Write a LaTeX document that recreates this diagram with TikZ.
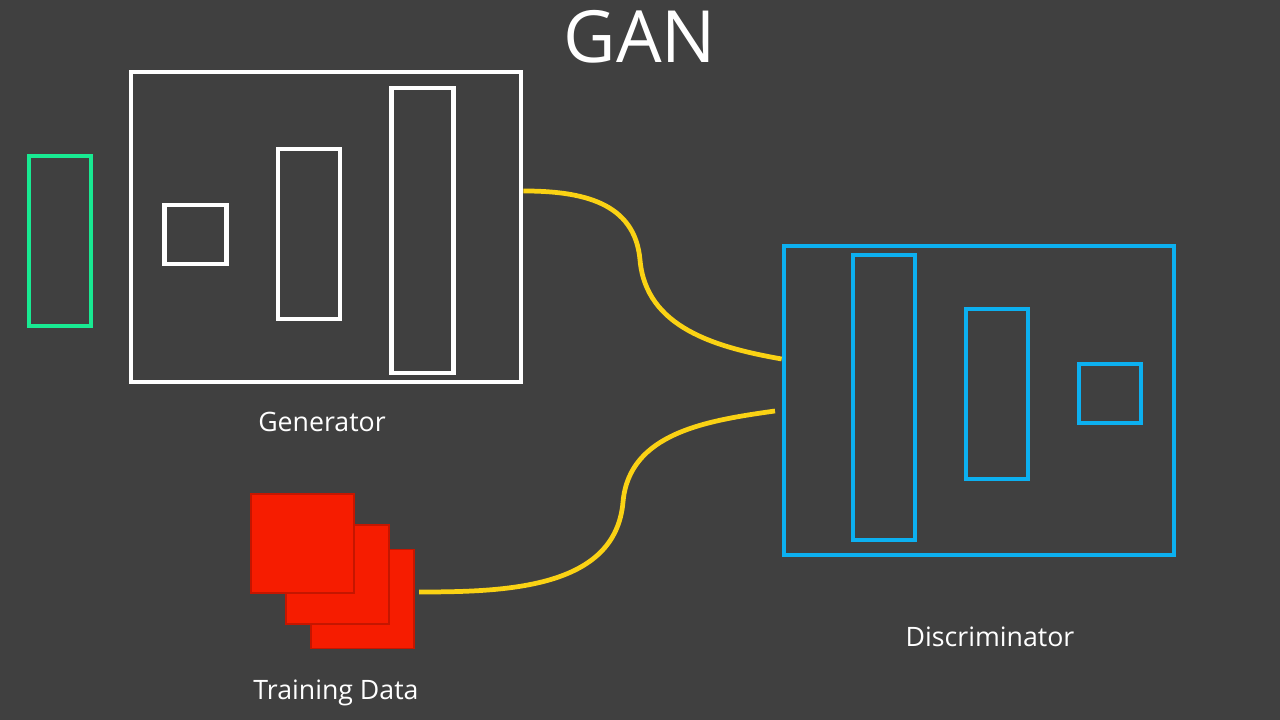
\documentclass[tikz,border=0pt]{standalone}
\usepackage{fontspec}
\setmainfont{Open Sans}
\usepackage{xcolor}

\definecolor{bgcol}{RGB}{64,64,64}
\definecolor{gancyan}{RGB}{12,176,240}
\definecolor{gangreen}{RGB}{24,234,146}
\definecolor{ganyellow}{RGB}{250,210,20}
\definecolor{ganred}{RGB}{246,28,0}

\tikzset{
  box/.style={draw, line width=1.35pt, inner sep=0pt},
  layer/.style={box, minimum width=0.62cm},
  sample/.style={fill=ganred, draw=ganred!80!black, line width=0.3pt,
    minimum width=1.03cm, minimum height=0.99cm, inner sep=0pt},
  wire/.style={ganyellow, line width=1.35pt},
  lbl/.style={white, anchor=base, font=\fontsize{7.6}{9}\selectfont}
}

\begin{document}
\begin{tikzpicture}
\fill[bgcol] (0,0) rectangle (12.8,7.2);
\useasboundingbox (0,0) rectangle (12.8,7.2);

\node[lbl, font=\fontsize{20.5}{24}\selectfont] (title) at (6.40,6.57) {GAN};

% noise input
\node[layer, draw=gangreen, minimum height=1.70cm] (noise) at (0.60,4.79) {};

% generator
\node[box, draw=white, minimum width=3.90cm, minimum height=3.10cm] (gen) at (3.26,4.93) {};
\node[layer, draw=white, minimum height=0.59cm] (g1) at (1.955,4.855) {};
\node[layer, draw=white, minimum height=1.70cm] (g2) at (3.09,4.86) {};
\node[layer, draw=white, minimum height=2.85cm] (g3) at (4.225,4.895) {};
\node[lbl] (genlbl) at (3.22,2.88) {Generator};

% discriminator
\node[box, draw=gancyan, minimum width=3.90cm, minimum height=3.09cm] (disc) at (9.79,3.195) {};
\node[layer, draw=gancyan, minimum height=2.85cm] (d1) at (8.84,3.225) {};
\node[layer, draw=gancyan, minimum height=1.70cm] (d2) at (9.97,3.26) {};
\node[layer, draw=gancyan, minimum height=0.59cm] (d3) at (11.10,3.265) {};
\node[lbl] (disclbl) at (9.90,0.73) {Discriminator};

% training data
\node[sample] (data3) at (3.625,1.21) {};
\node[sample] (data2) at (3.375,1.455) {};
\node[sample] (data1) at (3.025,1.765) {};
\node[lbl] (datalbl) at (3.36,0.20) {Training Data};

% connectors
\coordinate (fake) at ([yshift=3.6mm]gen.east);
\coordinate (fakebend) at (6.40,4.60);
\coordinate (fakein) at ([yshift=4.15mm]disc.west);
\coordinate (real) at (4.19,1.28);
\coordinate (realbend) at (6.23,2.18);
\coordinate (realin) at (7.75,3.09);

\draw[wire] (fake) to[out=0,in=95,looseness=1.1] (fakebend) to[out=-85,in=170] (fakein);
\draw[wire] (real) to[out=0,in=-95] (realbend) to[out=85,in=188] (realin);
\end{tikzpicture}
\end{document}
